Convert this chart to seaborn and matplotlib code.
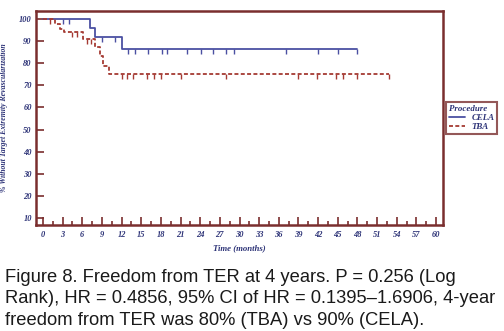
import numpy as np
import pandas as pd
import matplotlib
matplotlib.use("Agg")
import matplotlib.pyplot as plt
import seaborn as sns

# Kaplan-Meier step data (months, % without target extremity revascularization)
cela_times = [0, 7.2, 7.9, 12.0, 48.0]
cela_surv = [100, 96.0, 91.7, 86.5, 86.5]
cela_censor = [3.1, 4.0, 9.0, 11.0, 13.0, 14.0, 16.1, 18.1, 19.0, 22.0, 24.1,
               26.0, 28.0, 29.1, 37.1, 42.0, 45.0, 48.0]

tba_times = [0, 1.8, 2.6, 3.2, 6.1, 7.9, 8.7, 9.1, 10.0, 52.9]
tba_surv = [100, 97.7, 95.6, 94.0, 91.0, 87.2, 83.4, 78.9, 75.1, 75.1]
tba_censor = [1.0, 4.5, 5.2, 6.7, 7.3, 12.0, 12.9, 13.8, 15.9, 17.0, 18.0, 21.0,
              28.0, 38.9, 41.8, 44.8, 45.8, 47.9, 52.9]

groups = ["CELA", "TBA"]
x_ticks = list(range(0, 61, 3))
y_ticks = list(range(10, 101, 10))

caption_lines = [
    "Figure 8. Freedom from TER at 4 years. P = 0.256 (Log",
    "Rank), HR = 0.4856, 95% CI of HR = 0.1395\u20131.6906, 4-year",
    "freedom from TER was 80% (TBA) vs 90% (CELA).",
]

frame_col = "#7a2e2e"
text_col = "#2e3478"
palette = {"CELA": "#4b50a2", "TBA": "#a53a33"}
serif = "Liberation Serif"

sns.set_theme(style="white")
plt.rcParams["font.family"] = ["DejaVu Sans"]

fig = plt.figure(figsize=(5.04, 3.31), dpi=100)
ax = fig.add_axes([36 / 504, 1 - 225 / 331, (443 - 36) / 504, (225 - 11) / 331])

df = pd.concat([
    pd.DataFrame({"month": cela_times, "surv": cela_surv, "Procedure": "CELA"}),
    pd.DataFrame({"month": tba_times, "surv": tba_surv, "Procedure": "TBA"}),
], ignore_index=True)

sns.lineplot(data=df, x="month", y="surv", hue="Procedure", style="Procedure",
             hue_order=groups, style_order=groups, palette=palette,
             dashes={"CELA": "", "TBA": (2.2, 1.3)}, drawstyle="steps-post",
             estimator=None, sort=False, linewidth=1.3, ax=ax, legend=False)


def step_value(times, surv, t):
    idx = np.searchsorted(times, t, side="right") - 1
    return np.asarray(surv)[idx]


# censoring marks hang below the curve
for name, times, surv, cens in [("CELA", cela_times, cela_surv, cela_censor),
                                ("TBA", tba_times, tba_surv, tba_censor)]:
    cy = [step_value(times, surv, t) for t in cens]
    ax.plot(cens, cy, linestyle="none", marker=3, markersize=3.5,
            markeredgewidth=1.0, color=palette[name])

ax.set_xlim(-1.07, 61.07)
ax.set_ylim(6.83, 103.6)
ax.set_xticks(x_ticks)
ax.set_xticks(np.arange(1.5, 60, 3), minor=True)
ax.set_yticks(y_ticks)

tick_font = dict(family=serif, style="italic", weight="bold", size=6.0)
ax.set_xticklabels([str(v) for v in x_ticks], color=text_col, **tick_font)
ax.set_yticklabels([str(v) for v in y_ticks], color=text_col, **tick_font)

ax.tick_params(axis="x", which="major", direction="in", length=6, width=1.2,
               color=frame_col, pad=4, bottom=True)
ax.tick_params(axis="x", which="minor", direction="in", length=3, width=1.2,
               color=frame_col, bottom=True)
ax.tick_params(axis="y", which="major", direction="in", length=6, width=1.2,
               color=frame_col, pad=3, left=True)

for sp in ax.spines.values():
    sp.set_color(frame_col)
    sp.set_linewidth(1.8)

lab_font = dict(family=serif, style="italic", weight="bold", color=text_col)
ax.set_xlabel("Time (months)", fontsize=6.3, labelpad=4, **lab_font)
ax.set_ylabel("% Without Target Extremity Revascularization", fontsize=5.6,
              labelpad=8, **lab_font)

handles = [plt.Line2D([], [], color=palette["CELA"], lw=1.3),
           plt.Line2D([], [], color=palette["TBA"], lw=1.3, dashes=(2.2, 1.3))]
leg_font = dict(family=serif, style="italic", weight="bold", size=6.4)
leg = fig.legend(handles, groups, title="Procedure", loc="upper left",
                 bbox_to_anchor=(446 / 504, 1 - 102 / 331), frameon=True,
                 fancybox=False, handlelength=1.8, handletextpad=0.7,
                 borderpad=0.35, labelspacing=0.1, borderaxespad=0,
                 prop=leg_font, alignment="left")
leg.get_title().set_fontproperties(leg_font)
leg.get_title().set_color(text_col)
for t in leg.get_texts():
    t.set_color(text_col)
leg.get_frame().set_edgecolor(frame_col)
leg.get_frame().set_linewidth(1.5)

baselines = [281.7, 303.3, 325.0]
for line, yb in zip(caption_lines, baselines):
    fig.text(5 / 504, 1 - yb / 331, line, ha="left", va="baseline",
             fontsize=13.2, family="Liberation Sans", color="#1a1a1a")

fig.savefig("out.png", dpi=100)
